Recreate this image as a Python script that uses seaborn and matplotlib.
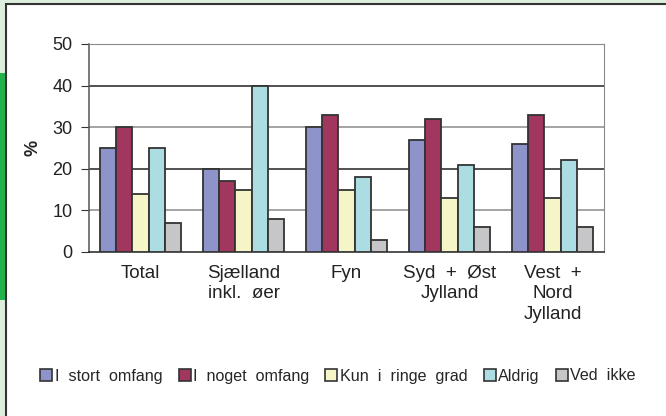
import matplotlib
matplotlib.use("Agg")
import matplotlib.pyplot as plt
from matplotlib.patches import Rectangle
import pandas as pd
import seaborn as sns

# ---------------- data ----------------
regions = ["Total", "Sjælland\ninkl.  øer", "Fyn", "Syd  +  Øst\nJylland", "Vest  +\nNord\nJylland"]
series = ["I  stort  omfang", "I  noget  omfang", "Kun  i  ringe  grad", "Aldrig", "Ved  ikke"]
stort = [25, 20, 30, 27, 26]
noget = [30, 17, 33, 32, 33]
ringe = [14, 15, 15, 13, 13]
aldrig = [25, 40, 18, 21, 22]
ved_ikke = [7, 8, 3, 6, 6]
colors = ["#8e94c9", "#a1365f", "#f6f5c8", "#abdde3", "#c6c6c8"]

rows = []
for name, vals in zip(series, [stort, noget, ringe, aldrig, ved_ikke]):
    for r, v in zip(regions, vals):
        rows.append({"region": r, "serie": name, "pct": v})
df = pd.DataFrame(rows)

# ---------------- plot ----------------
sns.set_style("white")
plt.rcParams["font.family"] = ["Liberation Sans", "DejaVu Sans"]

fig = plt.figure(figsize=(6.66, 4.16), dpi=100)
fig.patch.set_facecolor("#ddefdc")
# white panel with dark frame + green strip on the left
fig.patches.append(Rectangle((6 / 666, -0.1), 1.1, 1 - 4 / 416 + 0.1, transform=fig.transFigure,
                             facecolor="white", edgecolor="#333333", linewidth=1.5, zorder=-10))
fig.patches.append(Rectangle((0, 1 - 300 / 416), 5 / 666, 227 / 416, transform=fig.transFigure,
                             facecolor="#22b14c", edgecolor="none", zorder=-9))

ax = fig.add_axes([89 / 666, 1 - 252 / 416, 515 / 666, 208 / 416])
ax.set_facecolor("none")
sns.barplot(data=df, x="region", y="pct", hue="serie", hue_order=series, order=regions,
            palette=colors, saturation=1, edgecolor="#333333", linewidth=1.3, width=0.78, ax=ax,
            legend=True, zorder=3)

ax.set_ylim(0, 50)
ax.set_xlim(-0.5, 4.5)
ax.set_yticks(range(0, 51, 10))
for i, y in enumerate(range(10, 51, 10)):
    ax.axhline(y, color="#8a8a8a" if i % 2 == 0 else "#222222", linewidth=1.1, zorder=1)

for s in ["top", "right"]:
    ax.spines[s].set_visible(True)
    ax.spines[s].set_color("#8a8a8a")
ax.spines["left"].set_color("#555555")
ax.spines["bottom"].set_color("#222222")
ax.spines["left"].set_linewidth(1.1)
ax.spines["bottom"].set_linewidth(1.1)

ax.set_xticks([x + 0.5 for x in range(-1, 5)], minor=True)
ax.tick_params(axis="x", which="minor", length=6, direction="out", color="#333333", width=1)
ax.tick_params(axis="x", which="major", length=0, labelsize=13.5, pad=9, colors="#222222")
ax.tick_params(axis="y", length=6, direction="out", left=True, color="#333333",
               labelsize=13, colors="#222222", pad=6)
ax.set_xlabel("")
ax.set_ylabel("%", fontsize=13, fontweight="bold", labelpad=8)
for lab in ax.get_xticklabels():
    lab.set_verticalalignment("top")
    lab.set_linespacing(1.3)

leg = ax.legend(loc="center", bbox_to_anchor=(338 / 666, 1 - 376 / 416), bbox_transform=fig.transFigure,
                ncol=5, frameon=False, fontsize=11.6, handlelength=0.75, handleheight=0.75,
                handletextpad=0.15, columnspacing=1.0)
for h in leg.legend_handles:
    h.set_edgecolor("#333333")
    h.set_linewidth(1.2)

fig.savefig("out.png", dpi=100, facecolor=fig.get_facecolor())
